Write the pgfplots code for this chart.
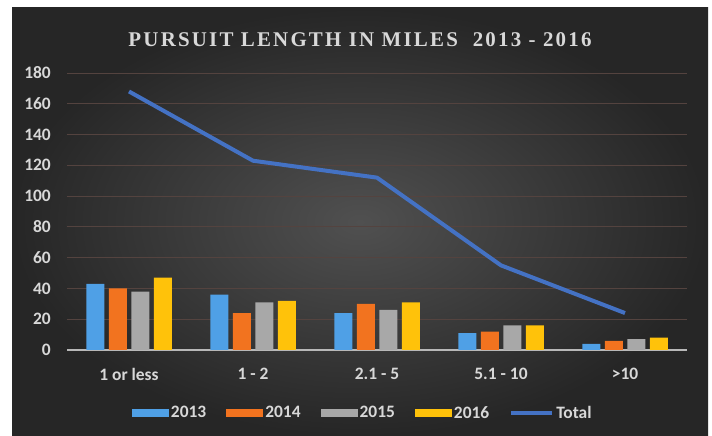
\documentclass[border=0pt]{standalone}
\usepackage{fontspec}
\setmainfont{Carlito}
\newfontfamily\titlefont[LetterSpace=10.5]{Liberation Serif}
\usepackage{pgfplots}
\pgfplotsset{compat=1.18}
\definecolor{cA}{HTML}{4FA0E6}
\definecolor{cB}{HTML}{F2731F}
\definecolor{cC}{HTML}{A8A8A8}
\definecolor{cD}{HTML}{FFC20A}
\definecolor{cT}{HTML}{4472C4}
\definecolor{bgin}{HTML}{505050}
\definecolor{bgout}{HTML}{262626}
\definecolor{gridc}{HTML}{54433F}
\definecolor{txt}{HTML}{D8D8D8}
\begin{document}
\begin{tikzpicture}
\path[fill=white] (0,0) rectangle (712bp,436bp);
\shade[inner color=bgin, outer color=bgout] (12bp,0) rectangle (708bp,428bp);
\node[text=txt, font=\titlefont\bfseries\fontsize{21}{24}\selectfont] at (360bp,396bp) {PURSUIT LENGTH IN MILES\ \ 2013 - 2016};
\begin{axis}[
  at={(67bp,86bp)}, anchor=south west,
  scale only axis, width=620bp, height=277bp,
  xmin=-0.5, xmax=4.5, ymin=0, ymax=180,
  ybar=4.5bp, bar width=18bp,
  axis lines*=left,
  y axis line style={draw=none},
  x axis line style={draw=txt!85!black, line width=1.5bp, -},
  xtick={0,1,2,3,4},
  xticklabels={1 or less, 1 - 2, 2.1 - 5, 5.1 - 10, >10},
  ytick={0,20,...,180},
  major tick length=0pt,
  ymajorgrids,
  major grid style={gridc, line width=0.8bp},
  tick label style={text=txt, font=\bfseries\fontsize{17.5}{20}\selectfont},
  /pgf/number format/assume math mode=true,
  yticklabel style={anchor=east, inner sep=0pt, xshift=-16bp},
  xticklabel style={anchor=north, inner sep=0pt, yshift=-18bp},
  legend columns=5,
  legend style={at={(0.477,-0.227)}, anchor=center, draw=none, fill=none,
    text=txt, font=\bfseries\fontsize{17.5}{20}\selectfont,
    /tikz/every even column/.append style={column sep=18bp},
    nodes={inner sep=2bp}},
]
\addplot[fill=cA, draw=none, legend image code/.code={\fill[cA] (0bp,-4bp) rectangle (37bp,4bp);}] coordinates {(0,43) (1,36) (2,24) (3,11) (4,4)};
\addplot[fill=cB, draw=none, legend image code/.code={\fill[cB] (0bp,-4bp) rectangle (37bp,4bp);}] coordinates {(0,40) (1,24) (2,30) (3,12) (4,6)};
\addplot[fill=cC, draw=none, legend image code/.code={\fill[cC] (0bp,-4bp) rectangle (37bp,4bp);}] coordinates {(0,38) (1,31) (2,26) (3,16) (4,7)};
\addplot[fill=cD, draw=none, legend image code/.code={\fill[cD] (0bp,-4bp) rectangle (37bp,4bp);}] coordinates {(0,47) (1,32) (2,31) (3,16) (4,8)};
\addplot[sharp plot, cT, line width=4bp, mark=none, bar shift=0pt, line join=round,
  legend image code/.code={\draw[cT, line width=4bp] (0bp,0bp) -- (41bp,0bp);}] coordinates {(0,168) (1,123) (2,112) (3,55) (4,24)};
\legend{2013,2014,2015,2016,Total}
\end{axis}
\end{tikzpicture}
\end{document}
